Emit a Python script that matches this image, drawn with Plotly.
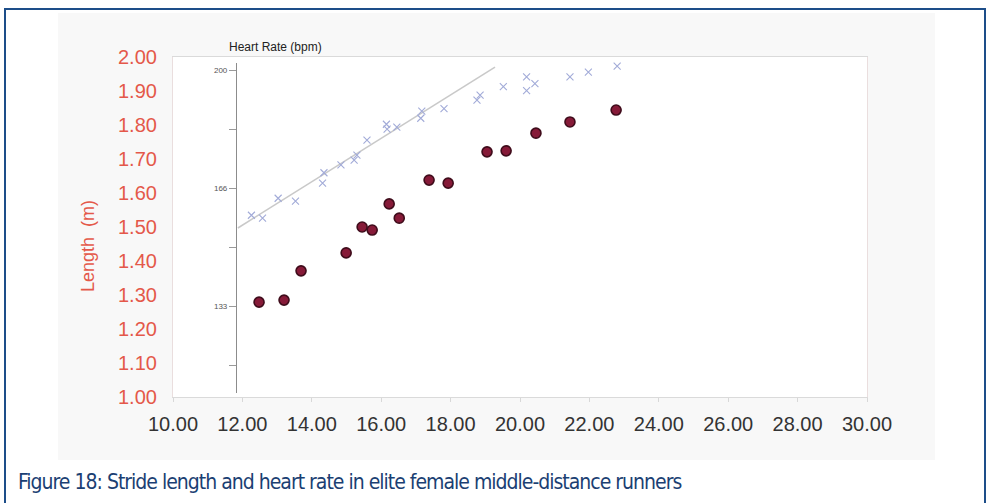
import plotly.graph_objects as go

# ---------------- data ----------------
speed_stride = [12.48, 13.20, 13.69, 14.99, 15.45, 15.74, 16.23, 16.52, 17.38, 17.93,
                19.05, 19.60, 20.46, 21.44, 22.77]
stride_length = [1.279, 1.285, 1.371, 1.424, 1.500, 1.491, 1.568, 1.526, 1.638, 1.629,
                 1.721, 1.724, 1.776, 1.809, 1.844]

speed_hr = [12.26, 12.58, 13.03, 13.53, 14.31, 14.35, 14.84, 15.22, 15.30, 15.59,
            16.15, 16.17, 16.45, 17.17, 17.14, 17.81, 18.85, 18.76, 19.52, 20.19,
            20.43, 20.19, 21.44, 21.97, 22.80]
heart_rate = [159.0, 158.2, 163.8, 163.0, 168.1, 171.0, 173.2, 174.6, 176.0, 180.2,
              184.7, 183.3, 183.9, 188.4, 186.4, 189.1, 192.9, 191.5, 195.3, 198.1,
              196.2, 194.2, 198.1, 199.4, 201.1]

trend_speed = [11.87, 19.28]
trend_hr = [155.4, 200.85]

x_ticks = [10, 12, 14, 16, 18, 20, 22, 24, 26, 28, 30]
y_ticks = [1.0, 1.1, 1.2, 1.3, 1.4, 1.5, 1.6, 1.7, 1.8, 1.9, 2.0]
hr_tickvals = [116.67, 133.33, 150.0, 166.67, 183.33, 200.0]
hr_ticktext = ["", "133", "", "166", "", "200"]

caption = "Figure 18: Stride length and heart rate in elite female middle-distance runners"

# ---------------- layout helpers (pixel -> paper) ----------------
W, H = 988, 503
L, R, T, B = 173, 867, 57, 397


def px(x):
    return (x - L) / (R - L)


def py(y):
    return (B - y) / (B - T)


fig = go.Figure()

fig.add_trace(go.Scatter(
    x=speed_stride, y=stride_length, xaxis="x", yaxis="y", mode="markers",
    marker=dict(symbol="circle", size=10, color="#861a38",
                line=dict(color="#3f0c1b", width=1.6)),
    showlegend=False))

fig.add_trace(go.Scatter(
    x=trend_speed, y=trend_hr, xaxis="x", yaxis="y2", mode="lines",
    line=dict(color="#c9c9c9", width=1.6), hoverinfo="skip", showlegend=False))

fig.add_trace(go.Scatter(
    x=speed_hr, y=heart_rate, xaxis="x", yaxis="y2", mode="markers",
    cliponaxis=False,
    marker=dict(symbol="x-thin-open", size=7, color="#a2abd8",
                line=dict(color="#a2abd8", width=1.1)),
    showlegend=False))

font_main = "Liberation Sans, Arial, sans-serif"

fig.update_layout(
    width=W, height=H,
    margin=dict(l=L, r=W - R, t=T, b=H - B, autoexpand=False),
    paper_bgcolor="white", plot_bgcolor="rgba(0,0,0,0)",
    showlegend=False,
    xaxis=dict(
        range=[10, 30], tickvals=x_ticks, tickformat=".2f",
        showgrid=False, zeroline=False,
        showline=True, linecolor="#dadada", linewidth=1.2, mirror=True,
        ticks="outside", ticklen=4, tickcolor="#d8d8d8",
        tickfont=dict(family=font_main, size=20, color="#333333"),
        ticklabelstandoff=5,
    ),
    yaxis=dict(
        range=[1.0, 2.0], tickvals=y_ticks, tickformat=".2f",
        showgrid=False, zeroline=False,
        showline=True, linecolor="#eadede", linewidth=1.2, mirror=True,
        ticks="", tickfont=dict(family=font_main, size=20, color="#e4584a"),
        ticklabelstandoff=11,
    ),
    yaxis2=dict(
        domain=[py(393), py(63)], range=[108.8, 202.0],
        anchor="free", position=px(236), side="left",
        showgrid=False, zeroline=False,
        showline=True, linecolor="#8c8c8c", linewidth=1.2,
        ticks="outside", ticklen=7, tickcolor="#9a9a9a",
        tickvals=hr_tickvals, ticktext=hr_ticktext,
        tickfont=dict(family=font_main, size=8, color="#555555"),
    ),
)

# light grey image background around the (white) plot area: four strips
grey = "#f8f8f8"
for (x0, x1, y0, y1) in [(58, 935, 13, T), (58, 935, B, 460), (58, L, T, B), (R, 935, T, B)]:
    fig.add_shape(type="rect", xref="paper", yref="paper", layer="below",
                  x0=px(x0), x1=px(x1), y0=py(y1), y1=py(y0),
                  fillcolor=grey, line=dict(width=0))

# blue frame
fig.add_shape(type="rect", xref="paper", yref="paper",
              x0=px(5), x1=px(985), y0=py(530), y1=py(9),
              line=dict(color="#1d4e89", width=2), fillcolor="rgba(0,0,0,0)")

# y-axis title
fig.add_annotation(x=px(88), y=py(246), xref="paper", yref="paper",
                   text="Length&nbsp;&nbsp;(m)", textangle=-90, showarrow=False,
                   font=dict(family=font_main, size=18, color="#e4584a"),
                   xanchor="center", yanchor="middle")

# inner chart title
fig.add_annotation(x=px(227), y=py(47), xref="paper", yref="paper",
                   text="Heart Rate (bpm)", showarrow=False,
                   font=dict(family="Liberation Sans Narrow, Arial Narrow, sans-serif",
                             size=12, color="#222222"),
                   xanchor="left", yanchor="middle")

# caption
fig.add_annotation(x=px(16), y=py(482), xref="paper", yref="paper",
                   text='<span style="letter-spacing:-1px">' + caption + '</span>',
                   showarrow=False,
                   font=dict(family="DejaVu Sans Condensed, sans-serif",
                             size=21, color="#1b3f73"),
                   xanchor="left", yanchor="middle")

fig.write_html("out.html", config={"displayModeBar": False},
               post_script="document.body.style.margin='0';")
